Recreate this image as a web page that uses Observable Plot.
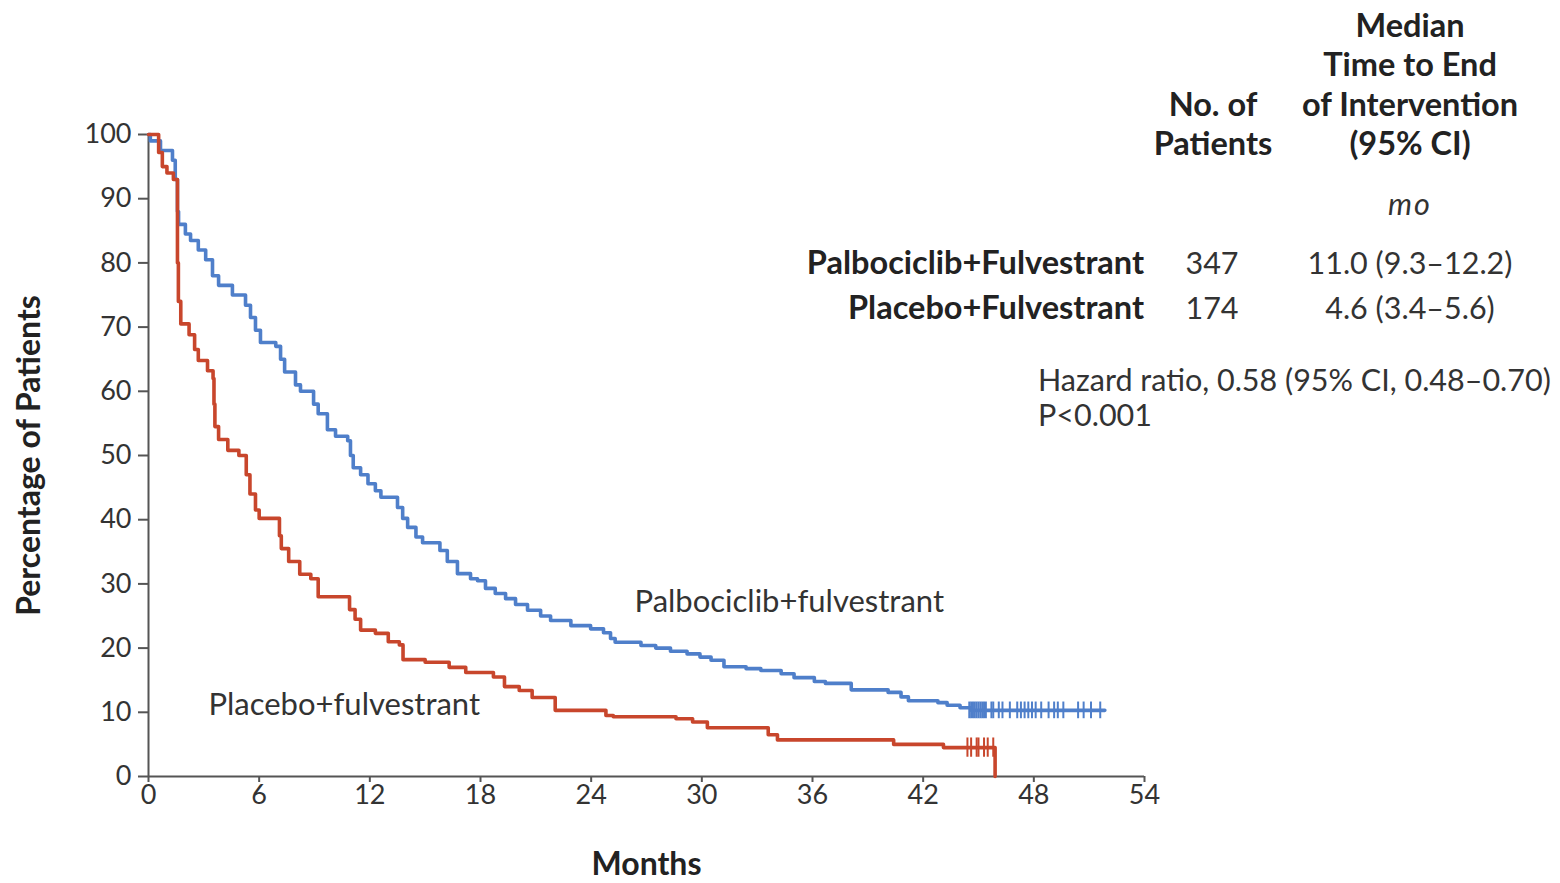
<!DOCTYPE html>
<html>
<head>
<meta charset="utf-8">
<script src="https://cdn.jsdelivr.net/npm/d3@7"></script>
<script src="https://cdn.jsdelivr.net/npm/@observablehq/plot@0.6"></script>
<style>
  html, body { margin: 0; padding: 0; background: #fff; }
  #wrap { position: relative; width: 1560px; height: 883px; font-family: "Lato", "Open Sans", sans-serif; color: #333; }
  #wrap svg { position: absolute; left: 0; top: 0; }
  .t { position: absolute; white-space: nowrap; font-size: 30.5px; line-height: 40px; }
  .b { font-weight: 700; color: #222; font-size: 32.5px; }
  [aria-label="x-axis label"] text, [aria-label="y-axis label"] text { font-weight: 700; font-size: 32px; fill: #222; }
</style>
</head>
<body>
<div id="wrap"></div>
<script>
// ---- Data ----
const xTicks = [0, 6, 12, 18, 24, 30, 36, 42, 48, 54];
const yTicks = [0, 10, 20, 30, 40, 50, 60, 70, 80, 90, 100];

// Palbociclib + fulvestrant: step times (months) and percentage after each step
const palboMonths = [0, 0.1, 0.65, 1.3, 1.45, 1.57, 1.63, 2.0, 2.28, 2.7, 3.1, 3.47, 3.8, 4.55, 5.26, 5.53, 5.8, 6.07, 6.9, 7.16, 7.38, 7.97, 8.24, 8.95, 9.2, 9.7, 10.14, 10.8, 10.95, 11.1, 11.5, 11.9, 12.3, 12.6, 13.5, 13.78, 14.05, 14.5, 14.86, 15.8, 16.2, 16.75, 17.46, 17.84, 18.27, 18.8, 19.36, 19.9, 20.55, 21.26, 21.8, 22.9, 23.97, 24.67, 25.05, 25.3, 26.7, 27.5, 28.3, 29.2, 29.9, 30.5, 31.2, 32.4, 33.2, 34.3, 35.0, 36.1, 36.7, 38.1, 40.1, 40.8, 41.2, 42.8, 43.3, 44.0, 44.6, 51.85];
const palboPct    = [100, 99, 97.5, 96, 93, 88, 86, 84.5, 83.5, 82, 80.5, 78, 76.5, 75, 73.4, 71.5, 69.5, 67.6, 67, 65, 63, 61, 60, 58, 56.5, 54, 53, 52.3, 50, 48.1, 47, 45.6, 44.5, 43.5, 41.9, 40.2, 38.8, 37.3, 36.4, 35.2, 33.5, 31.6, 30.8, 30.5, 29.3, 28.5, 27.7, 26.8, 25.9, 25, 24.3, 23.5, 23, 22.4, 21.5, 20.9, 20.4, 20, 19.5, 19.1, 18.6, 18.1, 17.1, 16.8, 16.5, 16, 15.4, 14.8, 14.5, 13.5, 13.1, 12.4, 11.8, 11.5, 11.1, 10.7, 10.3, 10.3];
const palboCensorMonths = [44.5, 44.6, 44.7, 44.8, 44.9, 45.0, 45.1, 45.2, 45.3, 45.4, 45.7, 45.8, 46.1, 46.3, 46.7, 47.1, 47.3, 47.5, 47.7, 47.9, 48.1, 48.4, 48.8, 49.1, 49.3, 49.6, 50.4, 50.7, 51.1, 51.6];
const palboCensorPct = 10.3;

// Placebo + fulvestrant
const placeboMonths = [0, 0.55, 0.75, 1.0, 1.35, 1.57, 1.62, 1.75, 2.2, 2.5, 2.7, 3.2, 3.5, 3.55, 3.6, 3.8, 4.3, 4.9, 5.3, 5.5, 5.8, 6.0, 7.1, 7.2, 7.6, 8.2, 8.8, 9.2, 10.9, 11.2, 11.5, 12.3, 13.0, 13.6, 13.8, 15.0, 16.3, 17.2, 18.7, 19.3, 20.1, 20.8, 22.05, 24.8, 25.2, 28.6, 29.5, 30.3, 33.6, 34.1, 40.4, 43.1, 45.9, 45.9];
const placeboPct    = [100, 97.2, 95, 94, 93, 80, 74, 70.5, 68.8, 66.5, 64.8, 63.2, 62, 58, 54.5, 52.5, 50.8, 50, 47, 44, 41.5, 40.2, 37.5, 35.5, 33.5, 31.5, 30.8, 28, 26, 24.5, 22.8, 22.3, 21, 20.5, 18.2, 17.8, 17, 16.2, 15.5, 14, 13.4, 12.3, 10.3, 9.5, 9.3, 9.0, 8.5, 7.6, 6.5, 5.7, 5.0, 4.5, 4.5, 0];
const placeboCensorMonths = [44.4, 44.6, 44.9, 45.0, 45.3, 45.5, 45.8];
const placeboCensorPct = 4.5;

const blue = "#4f7fca";
const red = "#c8462c";

const palbo = palboMonths.map((m, i) => ({m, p: palboPct[i]}));
const placebo = placeboMonths.map((m, i) => ({m, p: placeboPct[i]}));
const tickHalf = 1.3;

const chart = Plot.plot({
  width: 1560,
  height: 883,
  marginLeft: 148,
  marginRight: 416,
  marginTop: 134,
  marginBottom: 107,
  style: { fontFamily: "Lato, 'Open Sans', sans-serif", fontSize: "27px", color: "#333", background: "transparent" },
  x: { domain: [0, 54] },
  y: { domain: [0, 100] },
  marks: [
    Plot.axisX({ ticks: xTicks, tickSize: 6, tickPadding: 2, tickFormat: d => d, fontSize: 27, stroke: "#555", strokeWidth: 2,
      label: "Months", labelAnchor: "center", labelArrow: "none", labelOffset: 98 }),
    Plot.axisY({ ticks: yTicks, tickSize: 10, tickPadding: 7, tickFormat: d => d, fontSize: 27, stroke: "#555", strokeWidth: 2,
      label: "Percentage of Patients", labelAnchor: "center", labelArrow: "none", labelOffset: 131 }),
    Plot.ruleX([0], { stroke: "#555", strokeWidth: 2 }),
    Plot.ruleY([0], { stroke: "#555", strokeWidth: 2 }),
    Plot.line(palbo, { x: "m", y: "p", curve: "step-after", stroke: blue, strokeWidth: 3.6 }),
    Plot.line(placebo, { x: "m", y: "p", curve: "step-after", stroke: red, strokeWidth: 3.6 }),
    Plot.ruleX(palboCensorMonths, { x: d => d, y1: palboCensorPct - tickHalf, y2: palboCensorPct + tickHalf, stroke: blue, strokeWidth: 2 }),
    Plot.ruleX(placeboCensorMonths, { x: d => d, y1: placeboCensorPct - tickHalf - 0.2, y2: placeboCensorPct + tickHalf + 0.2, stroke: red, strokeWidth: 2 }),
    Plot.text(["Palbociclib+fulvestrant"], { x: 26.35, y: 27.1, text: d => d, textAnchor: "start", fontSize: 31, fill: "#333" }),
    Plot.text(["Placebo+fulvestrant"], { x: 3.25, y: 11.1, text: d => d, textAnchor: "start", fontSize: 31, fill: "#333" })
  ]
});

const wrap = document.getElementById("wrap");
wrap.appendChild(chart);

// ---- Table / annotation text ----
const lines = [
  // [text, anchorX, centerY, align, classes]
  ["Median", 1410, 25, "center", "b"],
  ["Time to End", 1410, 64, "center", "b"],
  ["of Intervention", 1410, 104, "center", "b"],
  ["(95% CI)", 1410, 143, "center", "b"],
  ["No. of", 1213, 104, "center", "b"],
  ["Patients", 1213, 143, "center", "b"],
  ["<i style='letter-spacing:2px'>mo</i>", 1410, 203, "center", ""],
  ["Palbociclib+Fulvestrant", 1144, 262, "right", "b"],
  ["347", 1212, 262, "center", ""],
  ["11.0 (9.3–12.2)", 1410, 262, "center", ""],
  ["Placebo+Fulvestrant", 1144, 307, "right", "b"],
  ["174", 1212, 307, "center", ""],
  ["4.6 (3.4–5.6)", 1410, 307, "center", ""],
  ["Hazard ratio, 0.58 (95% CI, 0.48–0.70)", 1038, 379, "left", ""],
  ["P&lt;0.001", 1038, 414, "left", ""]
];
for (const [txt, x, y, align, cls] of lines) {
  const d = document.createElement("div");
  d.className = "t " + cls;
  d.innerHTML = txt;
  d.style.top = (y - 20) + "px";
  if (align === "left") { d.style.left = x + "px"; }
  else if (align === "right") { d.style.right = (1560 - x) + "px"; }
  else { d.style.left = x + "px"; d.style.transform = "translateX(-50%)"; }
  wrap.appendChild(d);
}
</script>
</body>
</html>
